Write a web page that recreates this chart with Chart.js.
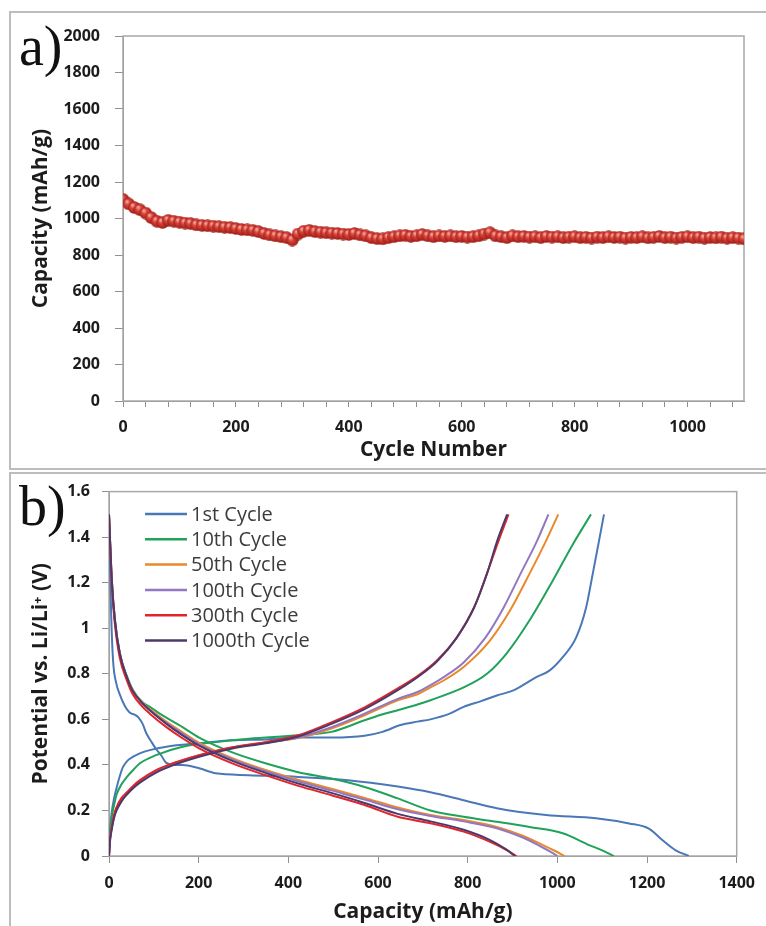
<!DOCTYPE html>
<html lang="en">
<head>
<meta charset="UTF-8">
<title>Capacity retention and charge/discharge profiles</title>
<script src="https://cdn.jsdelivr.net/npm/chart.js"></script>
<style>
  body { margin: 0; background: #fff; width: 766px; height: 926px; position: relative; overflow: hidden; }
  .panel { position: absolute; border: 2px solid #bdbdbd; }
  #panelA { left: 9px; top: 11px; width: 790px; height: 455px; }
  #panelB { left: 9px; top: 472px; width: 790px; height: 480px; }
  canvas { position: absolute; left: 0; }
  #chartA { top: 0; }
  #chartB { top: 470px; }
  .tag { position: absolute; font-family: "Liberation Serif", "DejaVu Serif", serif; font-size: 56px; line-height: 56px; color: #111; }
</style>
</head>
<body>
<div class="panel" id="panelA"></div>
<div class="panel" id="panelB"></div>
<canvas id="chartA" width="766" height="470"></canvas>
<canvas id="chartB" width="766" height="456"></canvas>
<div class="tag" style="left:19px; top:18px;">a)</div>
<div class="tag" style="left:19px; top:478px;">b)</div>

<script>
// ---- panel a: capacity vs cycle number ----
const cycleNumbers = [0, 10, 20, 30, 40, 50, 60, 70, 80, 90, 100, 110, 120, 130, 140, 150, 160, 170, 180, 190,
  200, 210, 220, 230, 240, 250, 260, 270, 280, 290, 300, 310, 320, 330, 340, 350, 360, 370, 380, 390,
  400, 410, 420, 430, 440, 450, 460, 470, 480, 490, 500, 510, 520, 530, 540, 550, 560, 570, 580, 590,
  600, 610, 620, 630, 640, 650, 660, 670, 680, 690, 700, 710, 720, 730, 740, 750, 760, 770, 780, 790,
  800, 810, 820, 830, 840, 850, 860, 870, 880, 890, 900, 910, 920, 930, 940, 950, 960, 970, 980, 990,
  1000, 1010, 1020, 1030, 1040, 1050, 1060, 1070, 1080, 1090, 1100];
const cycleCapacity = [1105, 1080, 1060, 1048, 1030, 1005, 985, 978, 990, 985, 980, 975, 972, 965, 962, 960, 958, 955, 952, 950,
  945, 940, 938, 935, 928, 918, 910, 905, 900, 895, 882, 915, 930, 935, 928, 925, 922, 920, 918, 915,
  912, 918, 910, 905, 895, 890, 888, 895, 900, 905, 908, 902, 905, 912, 905, 900, 905, 902, 905, 900,
  902, 898, 900, 905, 915, 922, 905, 900, 895, 905, 900, 902, 898, 900, 895, 902, 898, 900, 895, 898,
  900, 895, 897, 893, 898, 895, 900, 896, 898, 893, 897, 895, 900, 894, 897, 902, 895, 898, 893, 897,
  900, 895, 898, 892, 896, 894, 898, 892, 895, 893, 888];

// ---- panel b: voltage profiles ----
const cycleNames = ['1st Cycle', '10th Cycle', '50th Cycle', '100th Cycle', '300th Cycle', '1000th Cycle'];
const cycleColors = ['#4a78b6', '#21a25b', '#e8892c', '#9477c2', '#e2242b', '#4d3a6a'];

const dischargeCap = [
  [0, 2, 5, 9, 16, 24, 35, 46, 58, 65, 75, 83, 95, 105, 117, 127, 145, 164, 201, 238, 312, 422, 533, 644, 717, 791, 865, 975, 1086, 1160, 1204, 1234, 1263, 1293],
  [0, 6, 13, 24, 40, 53, 75, 91, 113, 164, 201, 275, 349, 422, 496, 570, 644, 717, 791, 865, 938, 1012, 1071, 1100, 1126],
  [0, 6, 13, 24, 40, 53, 75, 91, 128, 164, 201, 275, 349, 422, 496, 570, 644, 717, 791, 865, 924, 968, 995, 1016],
  [0, 6, 13, 24, 40, 53, 75, 91, 128, 164, 201, 275, 349, 422, 496, 570, 644, 717, 791, 865, 924, 960, 985, 1000],
  [0, 6, 13, 24, 40, 53, 75, 91, 128, 164, 201, 275, 349, 422, 496, 570, 644, 717, 791, 850, 887, 909],
  [0, 6, 13, 24, 40, 53, 75, 91, 128, 164, 201, 275, 349, 422, 496, 570, 644, 717, 791, 850, 885, 905]
];
const dischargeV = [
  [1.5, 1.3, 1.05, 0.86, 0.76, 0.71, 0.66, 0.63, 0.62, 0.61, 0.58, 0.54, 0.5, 0.47, 0.44, 0.41, 0.4, 0.4, 0.385, 0.363, 0.355, 0.347, 0.333, 0.305, 0.28, 0.245, 0.21, 0.18, 0.166, 0.143, 0.12, 0.07, 0.026, 0],
  [1.5, 1.21, 1.035, 0.89, 0.79, 0.73, 0.675, 0.655, 0.625, 0.566, 0.52, 0.455, 0.407, 0.368, 0.34, 0.303, 0.253, 0.2, 0.172, 0.15, 0.127, 0.1, 0.048, 0.025, 0],
  [1.5, 1.22, 1.04, 0.89, 0.785, 0.728, 0.672, 0.645, 0.59, 0.543, 0.497, 0.43, 0.378, 0.335, 0.295, 0.255, 0.213, 0.18, 0.158, 0.128, 0.088, 0.048, 0.022, 0],
  [1.5, 1.22, 1.04, 0.89, 0.783, 0.725, 0.668, 0.64, 0.585, 0.537, 0.49, 0.424, 0.372, 0.328, 0.288, 0.248, 0.205, 0.176, 0.152, 0.122, 0.08, 0.045, 0.018, 0],
  [1.5, 1.2, 1.02, 0.87, 0.77, 0.71, 0.655, 0.625, 0.566, 0.517, 0.473, 0.407, 0.355, 0.308, 0.267, 0.224, 0.172, 0.144, 0.107, 0.062, 0.026, 0],
  [1.5, 1.22, 1.04, 0.89, 0.785, 0.725, 0.67, 0.64, 0.58, 0.53, 0.485, 0.418, 0.365, 0.318, 0.277, 0.233, 0.185, 0.152, 0.115, 0.07, 0.03, 0]
];
const chargeCap = [
  [0, 2, 6, 11, 17, 24, 31, 42, 53, 70, 91, 128, 201, 275, 350, 422, 500, 570, 610, 650, 688, 717, 760, 791, 830, 865, 902, 953, 983, 1012, 1042, 1064, 1079, 1093, 1104],
  [0, 2, 6, 11, 17, 28, 40, 55, 69, 105, 164, 238, 312, 422, 496, 570, 607, 644, 688, 717, 791, 843, 887, 938, 990, 1035, 1075],
  [0, 2, 6, 11, 17, 28, 40, 55, 69, 105, 142, 201, 275, 349, 422, 496, 570, 644, 688, 717, 750, 791, 850, 895, 938, 975, 1002],
  [0, 2, 6, 11, 17, 28, 40, 55, 69, 105, 142, 201, 275, 349, 422, 496, 570, 644, 688, 717, 750, 791, 840, 880, 918, 955, 980],
  [0, 2, 6, 11, 17, 28, 40, 55, 69, 105, 142, 201, 275, 349, 422, 496, 570, 644, 688, 732, 776, 814, 843, 869, 891],
  [0, 2, 6, 11, 17, 28, 40, 55, 69, 105, 142, 201, 275, 349, 422, 496, 570, 644, 688, 732, 776, 814, 843, 866, 888]
];
const chargeV = [
  [0, 0.1, 0.19, 0.25, 0.3, 0.35, 0.39, 0.42, 0.435, 0.452, 0.465, 0.48, 0.495, 0.508, 0.512, 0.52, 0.52, 0.528, 0.545, 0.575, 0.59, 0.6, 0.625, 0.655, 0.68, 0.705, 0.727, 0.785, 0.815, 0.873, 0.96, 1.09, 1.24, 1.385, 1.5],
  [0, 0.09, 0.17, 0.22, 0.27, 0.315, 0.347, 0.38, 0.407, 0.443, 0.48, 0.5, 0.515, 0.53, 0.545, 0.596, 0.62, 0.64, 0.665, 0.684, 0.74, 0.8, 0.89, 1.035, 1.21, 1.37, 1.5],
  [0, 0.07, 0.125, 0.175, 0.21, 0.25, 0.277, 0.307, 0.33, 0.374, 0.405, 0.442, 0.476, 0.498, 0.518, 0.56, 0.618, 0.684, 0.71, 0.74, 0.775, 0.83, 0.947, 1.08, 1.24, 1.385, 1.5],
  [0, 0.07, 0.122, 0.172, 0.207, 0.247, 0.274, 0.304, 0.327, 0.371, 0.402, 0.44, 0.475, 0.497, 0.52, 0.566, 0.625, 0.69, 0.72, 0.75, 0.79, 0.85, 0.96, 1.09, 1.24, 1.385, 1.5],
  [0, 0.07, 0.127, 0.18, 0.215, 0.255, 0.28, 0.31, 0.333, 0.377, 0.407, 0.443, 0.478, 0.5, 0.53, 0.587, 0.653, 0.736, 0.79, 0.86, 0.96, 1.09, 1.24, 1.385, 1.5],
  [0, 0.06, 0.115, 0.165, 0.2, 0.24, 0.27, 0.3, 0.322, 0.366, 0.398, 0.436, 0.472, 0.495, 0.525, 0.58, 0.645, 0.728, 0.785, 0.855, 0.96, 1.09, 1.24, 1.385, 1.5]
];

const tickFont = { family: '"Open Sans", sans-serif', size: 16, weight: 'bold' };
const titleFont = { family: '"Open Sans", sans-serif', size: 21, weight: 'bold' };
const axisGray = '#8f8f8f';
const labelColor = '#1c1c1c';

// gray box round the plot area, like the Excel plot frame
const plotFrame = {
  id: 'plotFrame',
  beforeDatasetsDraw(chart) {
    const a = chart.chartArea, ctx = chart.ctx;
    ctx.save();
    ctx.strokeStyle = '#a8a8a8';
    ctx.lineWidth = 1.5;
    ctx.strokeRect(a.left, a.top, a.right - a.left, a.bottom - a.top);
    ctx.restore();
  }
};

// little shaded sphere used as the marker in panel a
function sphere(d) {
  const c = document.createElement('canvas');
  c.width = d; c.height = d;
  const g = c.getContext('2d');
  const r = d / 2;
  const grad = g.createRadialGradient(r * 0.7, r * 0.6, r * 0.1, r, r, r);
  grad.addColorStop(0, '#f4a49b');
  grad.addColorStop(0.35, '#d9463c');
  grad.addColorStop(0.8, '#b32720');
  grad.addColorStop(1, '#8a1a15');
  g.fillStyle = grad;
  g.beginPath();
  g.arc(r, r, r - 0.3, 0, Math.PI * 2);
  g.fill();
  return c;
}

new Chart(document.getElementById('chartA'), {
  type: 'scatter',
  data: {
    datasets: [{
      data: cycleNumbers.map((c, i) => ({ x: c, y: cycleCapacity[i] })),
      pointStyle: sphere(13),
      pointRadius: 6.5
    }]
  },
  options: {
    responsive: false,
    animation: false,
    layout: { padding: { top: 36, right: 22, left: 0, bottom: 7 } },
    plugins: { legend: { display: false }, tooltip: { enabled: false } },
    scales: {
      x: {
        type: 'linear', min: 0, max: 1100,
        afterFit: s => { s.height = 62; },
        ticks: {
          stepSize: 40, includeBounds: false, autoSkip: false, maxRotation: 0,
          font: tickFont, color: labelColor, padding: 11,
          callback: v => (v % 200 === 0 ? String(v) : '')
        },
        grid: { drawOnChartArea: false, tickLength: 6, color: axisGray },
        border: { color: axisGray },
        title: { display: true, text: 'Cycle Number', font: titleFont, color: labelColor, padding: { top: 0, bottom: 0 } }
      },
      y: {
        min: 0, max: 2000,
        afterFit: s => { s.width = 123; },
        ticks: { stepSize: 200, font: tickFont, color: labelColor, padding: 15, callback: v => String(v) },
        grid: { drawOnChartArea: false, tickLength: 8, color: axisGray },
        border: { color: axisGray },
        title: { display: true, text: 'Capacity (mAh/g)', font: titleFont, color: labelColor, padding: { top: 28, bottom: 0 } }
      }
    }
  },
  plugins: [plotFrame]
});

// legend drawn inside the plot area, top-left
const insideLegend = {
  id: 'insideLegend',
  afterDatasetsDraw(chart) {
    const ctx = chart.ctx;
    ctx.save();
    ctx.font = '20px "Open Sans", sans-serif';
    ctx.textBaseline = 'middle';
    ctx.textAlign = 'left';
    cycleNames.forEach((name, i) => {
      const y = 44 + i * 25.3;
      ctx.strokeStyle = cycleColors[i];
      ctx.lineWidth = 2.5;
      ctx.beginPath();
      ctx.moveTo(145, y);
      ctx.lineTo(187, y);
      ctx.stroke();
      ctx.fillStyle = '#3c3c3c';
      ctx.fillText(name, 191, y + 1);
    });
    ctx.restore();
  }
};

const profileSets = [];
cycleNames.forEach((name, i) => {
  const common = {
    label: name, showLine: true, borderColor: cycleColors[i], backgroundColor: cycleColors[i],
    borderWidth: 2, pointRadius: 0, cubicInterpolationMode: 'monotone', order: 6 - i
  };
  profileSets.push(Object.assign({}, common, {
    data: dischargeCap[i].map((c, k) => ({ x: c, y: dischargeV[i][k] }))
  }));
  profileSets.push(Object.assign({}, common, {
    data: chargeCap[i].map((c, k) => ({ x: c, y: chargeV[i][k] }))
  }));
});

new Chart(document.getElementById('chartB'), {
  type: 'scatter',
  data: { datasets: profileSets },
  options: {
    responsive: false,
    animation: false,
    layout: { padding: { top: 21, right: 24, left: 0, bottom: 1 } },
    plugins: { legend: { display: false }, tooltip: { enabled: false } },
    scales: {
      x: {
        type: 'linear', min: 0, max: 1400,
        afterFit: s => { s.height = 69; },
        ticks: { stepSize: 200, autoSkip: false, maxRotation: 0, font: tickFont, color: labelColor, padding: 11, callback: v => String(v) },
        grid: { drawOnChartArea: false, tickLength: 7, color: axisGray },
        border: { color: axisGray },
        title: { display: true, text: 'Capacity (mAh/g)', font: titleFont, color: labelColor, padding: { top: 0, bottom: 0 } }
      },
      y: {
        min: 0, max: 1.6,
        afterFit: s => { s.width = 109; },
        ticks: { stepSize: 0.2, font: tickFont, color: labelColor, padding: 12, callback: v => String(Math.round(v * 10) / 10) },
        grid: { drawOnChartArea: false, tickLength: 7, color: axisGray },
        border: { color: axisGray },
        title: { display: true, text: 'Potential vs. Li/Li\u207A (V)', font: titleFont, color: labelColor, padding: { top: 28, bottom: 0 } }
      }
    }
  },
  plugins: [plotFrame, insideLegend]
});
</script>
</body>
</html>
